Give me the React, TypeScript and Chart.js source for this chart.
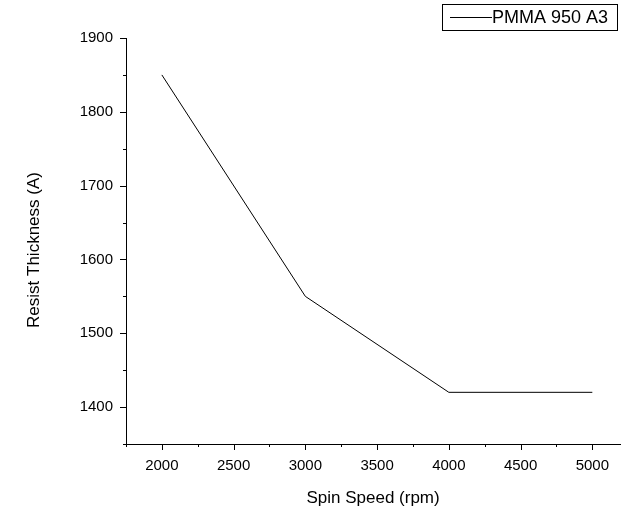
import React, { useEffect, useRef } from "react";
import { Chart, registerables } from "chart.js";

Chart.register(...registerables);

const spinSpeeds = [2000, 3000, 4000, 5000];
const thickness = [1850, 1550, 1420, 1420];
const xTicks = [2000, 2500, 3000, 3500, 4000, 4500, 5000];
const xMinorTicks = [1750, 2250, 2750, 3250, 3750, 4250, 4750];
const yTicks = [1400, 1500, 1600, 1700, 1800, 1900];
const yMinorTicks = [1350, 1450, 1550, 1650, 1750, 1850];
const seriesLabel = "PMMA 950 A3";
const xTitle = "Spin Speed (rpm)";
const yTitle = "Resist Thickness (A)";

const FONT = "'Liberation Sans', Arial, Helvetica, sans-serif";

const tickPlugin = {
  id: "originTicks",
  afterDraw(chart: any) {
    const ctx = chart.ctx;
    const xs = chart.scales.x;
    const ys = chart.scales.y;
    const area = chart.chartArea;
    ctx.save();
    ctx.strokeStyle = "#000";
    ctx.lineWidth = 1;
    ctx.beginPath();
    const major = 6;
    const minor = 3;
    xTicks.forEach((v) => {
      const px = Math.round(xs.getPixelForValue(v)) + 0.5;
      ctx.moveTo(px, area.bottom);
      ctx.lineTo(px, area.bottom + major);
    });
    xMinorTicks.forEach((v) => {
      const px = Math.round(xs.getPixelForValue(v)) + 0.5;
      ctx.moveTo(px, area.bottom);
      ctx.lineTo(px, area.bottom + minor);
    });
    yTicks.forEach((v) => {
      const py = Math.round(ys.getPixelForValue(v)) + 0.5;
      ctx.moveTo(area.left, py);
      ctx.lineTo(area.left - major, py);
    });
    yMinorTicks.forEach((v) => {
      const py = Math.round(ys.getPixelForValue(v)) + 0.5;
      ctx.moveTo(area.left, py);
      ctx.lineTo(area.left - minor, py);
    });
    ctx.stroke();

    ctx.fillStyle = "#000";
    // axis titles
    ctx.font = `17px ${FONT}`;
    ctx.textAlign = "center";
    ctx.textBaseline = "alphabetic";
    ctx.fillText(xTitle, (area.left + area.right) / 2, 503);
    ctx.save();
    ctx.translate(39, 250);
    ctx.rotate(-Math.PI / 2);
    ctx.fillText(yTitle, 0, 0);
    ctx.restore();

    // legend box
    const bx = 442.5, by = 4.5, bw = 175, bh = 26;
    ctx.strokeRect(bx, by, bw, bh);
    ctx.beginPath();
    ctx.moveTo(450, by + bh / 2);
    ctx.lineTo(492, by + bh / 2);
    ctx.stroke();
    ctx.font = `18px ${FONT}`;
    ctx.textBaseline = "middle";
    ctx.textAlign = "left";
    ctx.fillText(chart.data.datasets[0].label, 492, by + bh / 2 + 1);
    ctx.restore();
  },
};

export default function App() {
  const ref = useRef<HTMLCanvasElement | null>(null);
  useEffect(() => {
    if (!ref.current) return;
    const chart = new Chart(ref.current, {
      type: "line",
      data: {
        datasets: [
          {
            label: seriesLabel,
            data: spinSpeeds.map((x, i) => ({ x, y: thickness[i] })),
            borderColor: "#000",
            borderWidth: 1,
            pointRadius: 0,
            fill: false,
            tension: 0,
          },
        ],
      },
      options: {
        animation: false,
        responsive: false,
        maintainAspectRatio: false,
        layout: { padding: { top: 38, right: 0, left: 0, bottom: 0 } },
        plugins: { legend: { display: false }, tooltip: { enabled: false } },
        scales: {
          x: {
            type: "linear",
            min: 1750,
            max: 5194,
            grid: { display: false, drawTicks: false },
            border: { display: true, color: "#000", width: 1 },
            afterBuildTicks: (s: any) => {
              s.ticks = xTicks.map((v) => ({ value: v }));
            },
            afterFit: (s: any) => {
              s.height = 64;
            },
            ticks: {
              color: "#000",
              padding: 13,
              maxRotation: 0,
              font: { family: FONT, size: 15 },
              callback: (v: any) => String(v),
            },
          },
          y: {
            type: "linear",
            min: 1350,
            max: 1900,
            grid: { display: false, drawTicks: false },
            border: { display: true, color: "#000", width: 1 },
            afterBuildTicks: (s: any) => {
              s.ticks = yTicks.map((v) => ({ value: v }));
            },
            afterFit: (s: any) => {
              s.width = 126;
            },
            ticks: {
              color: "#000",
              padding: 13,
              font: { family: FONT, size: 15 },
              callback: (v: any) => String(v),
            },
          },
        },
      },
      plugins: [tickPlugin],
    });
    return () => chart.destroy();
  }, []);
  return (
    <div style={{ position: "absolute", left: 0, top: 0, width: 622, height: 508 }}>
      <canvas ref={ref} width={622} height={508} style={{ width: 622, height: 508 }} />
    </div>
  );
}
